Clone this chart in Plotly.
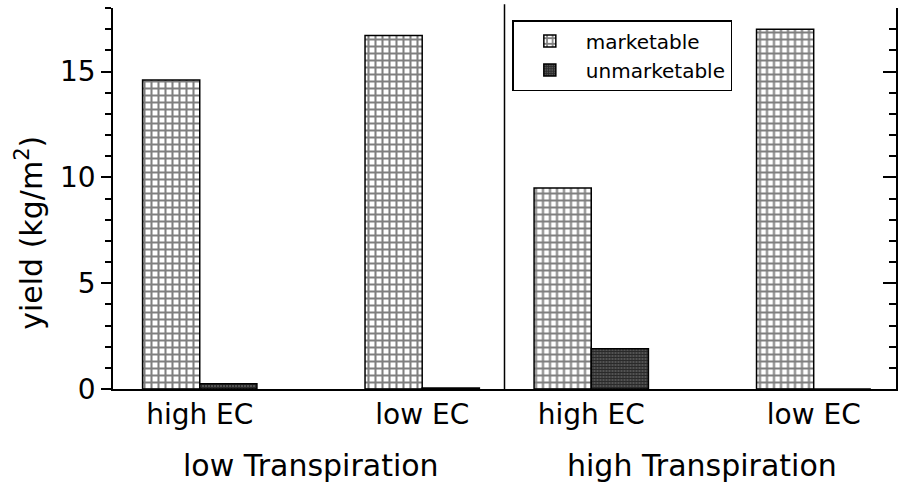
import plotly.graph_objects as go

ec_levels = ["high EC", "low EC"]
transpiration = ["low Transpiration", "high Transpiration"]
marketable = {"low Transpiration": [14.6, 16.7], "high Transpiration": [9.5, 17.0]}
unmarketable = {"low Transpiration": [0.25, 0.05], "high Transpiration": [1.9, 0.0]}
y_ticks = [0, 5, 10, 15]

FONT = "DejaVu Sans"
fig = go.Figure()

for i, tr in enumerate(transpiration):
    xa = "x" if i == 0 else "x2"
    ya = "y" if i == 0 else "y2"
    fig.add_trace(go.Bar(
        x=ec_levels, y=marketable[tr], name="marketable", xaxis=xa, yaxis=ya,
        showlegend=(i == 0), legendgroup="m",
        marker=dict(color="white", line=dict(color="black", width=1.5),
                    pattern=dict(shape="+", size=7, solidity=0.5,
                                 fgcolor="black", bgcolor="white")),
    ))
    fig.add_trace(go.Bar(
        x=ec_levels, y=unmarketable[tr], name="unmarketable", xaxis=xa, yaxis=ya,
        showlegend=(i == 0), legendgroup="u",
        marker=dict(color="#444444", line=dict(color="black", width=1.5),
                    pattern=dict(shape="+", size=3, solidity=0.6,
                                 fgcolor="black", bgcolor="#555555")),
    ))
    fig.add_annotation(text=tr, xref=xa, yref="paper", x=0.5, y=-0.2,
                       yanchor="middle", showarrow=False,
                       font=dict(family=FONT, size=30, color="black"))

fig.add_annotation(text="yield (kg/m<sup>2</sup>)", xref="paper", yref="paper",
                   x=-0.106, y=0.41, textangle=-90, showarrow=False,
                   xanchor="center", yanchor="middle",
                   font=dict(family=FONT, size=30, color="black"))

xcommon = dict(type="category", range=[-0.39, 1.37], showline=True, linecolor="black",
               linewidth=1.5, ticks="", tickfont=dict(family=FONT, size=28, color="black"),
               showgrid=False, zeroline=False, automargin=False)
fig.update_layout(
    width=898, height=487,
    margin=dict(l=113, r=2, t=8, b=98, autoexpand=False),
    paper_bgcolor="white", plot_bgcolor="white",
    barmode="group", bargap=0.486, bargroupgap=0,
    xaxis=dict(domain=[0, 0.5], anchor="y", **xcommon),
    xaxis2=dict(domain=[0.5, 1], anchor="y2", **xcommon),
    yaxis=dict(range=[0, 18], anchor="x", tickvals=y_ticks, ticks="outside", ticklen=10,
               tickwidth=1.5, tickcolor="black", showline=True, linecolor="black",
               linewidth=1.5, showgrid=False, zeroline=False, automargin=False,
               tickfont=dict(family=FONT, size=28, color="black"),
               minor=dict(dtick=1, ticks="outside", ticklen=6, tickwidth=1.5,
                          tickcolor="black", showgrid=False)),
    yaxis2=dict(range=[0, 18], anchor="x2", side="right",
                tickvals=y_ticks, ticks="inside", ticklen=13, tickwidth=1.5,
                tickcolor="black", showticklabels=False, showline=True, automargin=False,
                linecolor="black", linewidth=1.5, showgrid=False, zeroline=False,
                minor=dict(dtick=1, ticks="inside", ticklen=7, tickwidth=1.5,
                           tickcolor="black", showgrid=False)),
    legend=dict(x=0.51, y=0.9685, xanchor="left", yanchor="top",
                bordercolor="black", borderwidth=1.5, bgcolor="white",
                font=dict(family=FONT, size=20, color="black"),
                tracegroupgap=0, itemwidth=62),
    showlegend=True,
)
fig.add_shape(type="line", xref="paper", yref="paper", x0=0.5, x1=0.5, y0=0, y1=1.01,
              line=dict(color="black", width=1.5))

fig.write_html("out.html", config={"displayModeBar": False},
               post_script="document.body.style.margin='0';document.body.style.overflow='hidden';")
